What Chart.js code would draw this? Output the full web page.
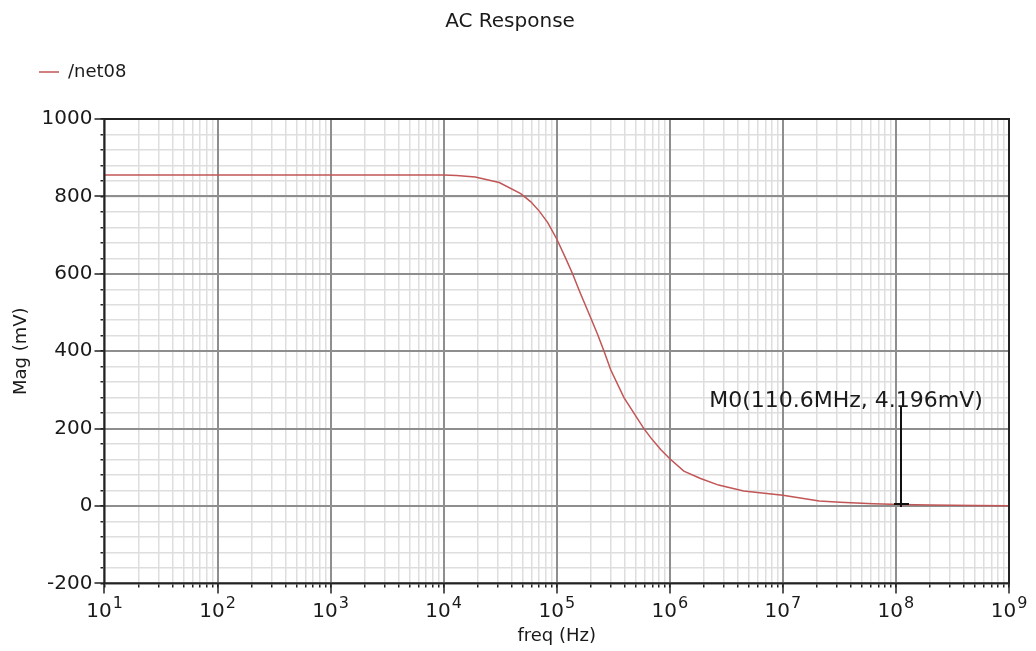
<!DOCTYPE html>
<html>
<head>
<meta charset="utf-8">
<title>AC Response</title>
<script src="https://cdn.jsdelivr.net/npm/chart.js@4.4.1/dist/chart.umd.min.js"></script>
<style>
  html, body { margin: 0; padding: 0; background: #fff; }
  #wrap { width: 1036px; height: 651px; }
</style>
</head>
<body>
<div id="wrap"><canvas id="acChart"></canvas></div>
<script>
// AC sweep of /net08: frequency (Hz) and magnitude (mV)
const freq = [10, 100, 1e3, 1e4, 1.3e4, 1.9e4, 3.1e4, 4.8e4, 5.9e4, 7e4, 8.3e4, 1e5,
              1.2e5, 1.38e5, 1.6e5, 2e5, 2.3e5, 2.62e5, 3e5, 3.93e5, 5.9e5, 6.8e5, 8.3e5, 1e6,
              1.33e6, 1.87e6, 2.7e6, 4.5e6, 1e7, 2.1e7, 3.2e7, 6.3e7, 1.106e8, 2e8, 5e8, 1e9];
const magMv = [855, 855, 855, 855, 854, 850, 836, 807, 786, 762, 733, 690,
               640, 600, 553, 486, 443, 400, 352, 280, 200, 176, 146, 122,
               90, 71, 54, 39, 28, 13, 10, 6, 4.196, 2.5, 1, 0.5];

// x axis labels are 10^n for these exponents
const xDecades = [1, 2, 3, 4, 5, 6, 7, 8, 9];
const yTickLabels = [-200, 0, 200, 400, 600, 800, 1000];

// marker M0
const markerFreq = 110.6e6;
const markerMag = 4.196;
const markerText = 'M0(110.6MHz, 4.196mV)';

const FONT = '"DejaVu Sans", Verdana, sans-serif';
const TEXT = '#1a1a1a';
const MAJOR = '#8e8e8e';
const MINOR = '#dedede';

// extra room between the legend row and the plot
const legendGap = {
    id: 'legendGap',
    beforeInit(chart) {
        const fit = chart.legend.fit;
        chart.legend.fit = function () {
            fit.call(this);
            this.height += 28;
        };
    }
};

// decade / 200 mV grid lines on top of the fine grid
const majorGrid = {
    id: 'majorGrid',
    beforeDatasetsDraw(chart) {
        const { ctx, chartArea: a, scales: { x, y } } = chart;
        ctx.save();
        ctx.strokeStyle = MAJOR;
        ctx.lineWidth = 2;
        ctx.beginPath();
        xDecades.forEach(e => {
            const px = Math.round(x.getPixelForValue(Math.pow(10, e)));
            ctx.moveTo(px, a.top);
            ctx.lineTo(px, a.bottom);
        });
        yTickLabels.forEach(v => {
            const py = Math.round(y.getPixelForValue(v));
            ctx.moveTo(a.left, py);
            ctx.lineTo(a.right, py);
        });
        ctx.stroke();
        ctx.restore();
    }
};

// long ticks, frame, superscript x labels and the marker
const decorPlugin = {
    id: 'decor',
    afterDraw(chart) {
        const { ctx, chartArea: a, scales: { x, y } } = chart;
        ctx.save();
        ctx.strokeStyle = '#222';
        ctx.lineWidth = 1.5;
        ctx.beginPath();
        xDecades.forEach(e => {
            const px = Math.round(x.getPixelForValue(Math.pow(10, e)));
            ctx.moveTo(px, a.bottom);
            ctx.lineTo(px, a.bottom + 10);
        });
        yTickLabels.forEach(v => {
            const py = Math.round(y.getPixelForValue(v));
            ctx.moveTo(a.left - 10, py);
            ctx.lineTo(a.left, py);
        });
        ctx.stroke();

        ctx.lineWidth = 2;
        ctx.strokeRect(a.left, a.top, a.right - a.left, a.bottom - a.top);

        // 10^n labels
        ctx.fillStyle = TEXT;
        ctx.textAlign = 'left';
        ctx.textBaseline = 'alphabetic';
        xDecades.forEach(e => {
            const px = x.getPixelForValue(Math.pow(10, e));
            ctx.font = '20px ' + FONT;
            const wb = ctx.measureText('10').width;
            ctx.font = '16px ' + FONT;
            const we = ctx.measureText(String(e)).width;
            const left = px - (wb + we + 1) / 2;
            ctx.font = '20px ' + FONT;
            ctx.fillText('10', left, a.bottom + 34);
            ctx.font = '16px ' + FONT;
            ctx.fillText(String(e), left + wb + 1, a.bottom + 25);
        });

        // marker stem, cross and readout
        const mx = Math.round(x.getPixelForValue(markerFreq));
        const my = Math.round(y.getPixelForValue(markerMag));
        ctx.strokeStyle = '#111';
        ctx.lineWidth = 2;
        ctx.beginPath();
        ctx.moveTo(mx, my + 3);
        ctx.lineTo(mx, my - 97);
        ctx.moveTo(mx - 7, my);
        ctx.lineTo(mx + 8, my);
        ctx.stroke();
        ctx.font = '22px ' + FONT;
        ctx.textAlign = 'center';
        ctx.fillText(markerText, mx - 55, my - 97);
        ctx.restore();
    }
};

const fineGrid = {
    color: MINOR,
    lineWidth: 1.5,
    tickLength: 4,
    tickColor: '#222',
    tickWidth: 1.5
};

new Chart(document.getElementById('acChart'), {
    type: 'line',
    data: {
        datasets: [{
            label: '/net08',
            data: freq.map((f, i) => ({ x: f, y: magMv[i] })),
            borderColor: '#c25555',
            backgroundColor: '#c25555',
            borderWidth: 1.5,
            pointRadius: 0,
            pointStyle: 'line',
            tension: 0
        }]
    },
    options: {
        responsive: true,
        maintainAspectRatio: false,
        animation: false,
        layout: { padding: { left: 11, right: 27, top: 0, bottom: 0 } },
        plugins: {
            title: {
                display: true,
                text: 'AC Response',
                color: TEXT,
                font: { family: FONT, size: 20, weight: 'normal' },
                padding: { top: 10, bottom: 1 }
            },
            legend: {
                position: 'top',
                align: 'start',
                labels: {
                    usePointStyle: true,
                    pointStyleWidth: 20,
                    padding: 28,
                    color: TEXT,
                    font: { family: FONT, size: 18 }
                }
            },
            tooltip: { enabled: false }
        },
        scales: {
            x: {
                type: 'logarithmic',
                min: 10,
                max: 1e9,
                afterBuildTicks: scale => {
                    const ticks = [];
                    xDecades.slice(0, -1).forEach(e => {
                        for (let k = 1; k <= 9; k++) ticks.push({ value: k * Math.pow(10, e) });
                    });
                    ticks.push({ value: 1e9 });
                    scale.ticks = ticks;
                },
                ticks: {
                    autoSkip: false,
                    maxRotation: 0,
                    callback: () => '',
                    padding: 5,
                    font: { family: FONT, size: 20 }
                },
                grid: fineGrid,
                border: { color: '#222', width: 2 },
                title: {
                    display: true,
                    text: 'freq (Hz)',
                    color: TEXT,
                    font: { family: FONT, size: 18 },
                    padding: { top: 4, bottom: 4 }
                }
            },
            y: {
                min: -200,
                max: 1000,
                ticks: {
                    stepSize: 40,
                    autoSkip: false,
                    callback: v => (yTickLabels.includes(v) ? String(v) : ''),
                    padding: 8,
                    color: TEXT,
                    font: { family: FONT, size: 20 }
                },
                grid: fineGrid,
                border: { color: '#222', width: 2 },
                title: {
                    display: true,
                    text: 'Mag (mV)',
                    color: TEXT,
                    font: { family: FONT, size: 18 },
                    padding: { top: 0, bottom: 1 }
                }
            }
        }
    },
    plugins: [legendGap, majorGrid, decorPlugin]
});
</script>
</body>
</html>
